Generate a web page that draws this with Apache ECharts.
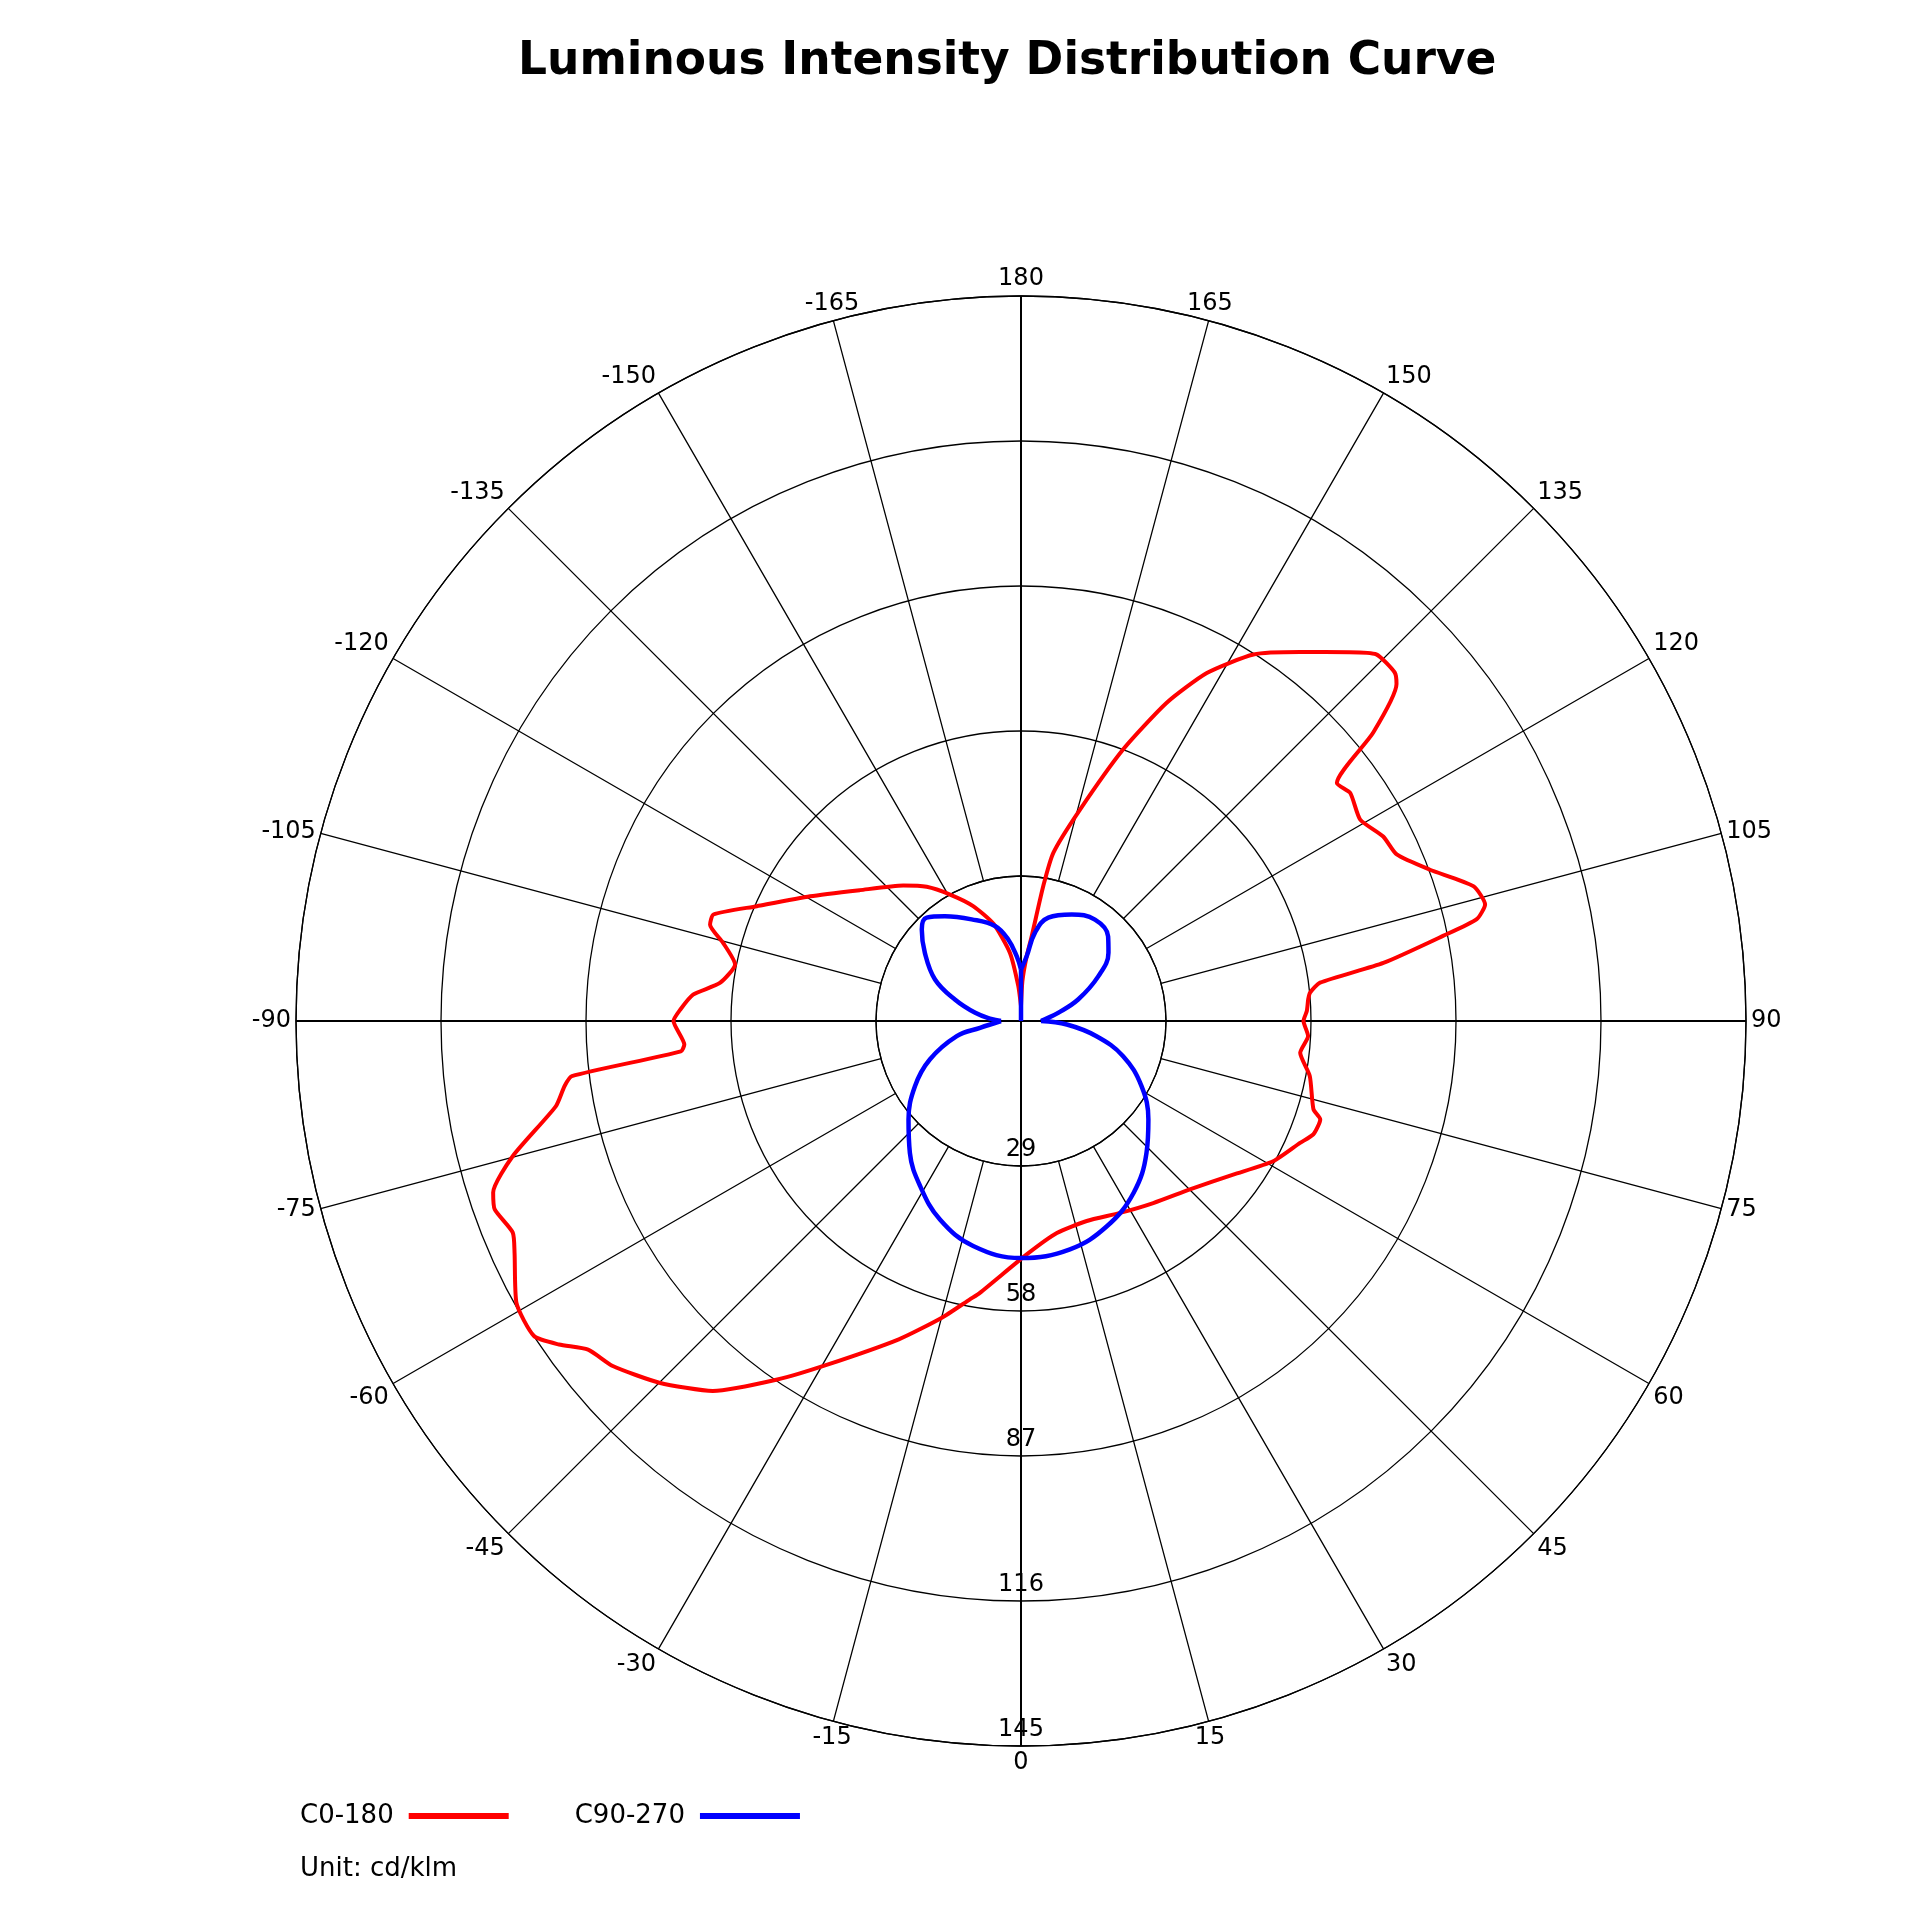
<!DOCTYPE html>
<html>
<head>
<meta charset="utf-8">
<script src="https://cdn.jsdelivr.net/npm/echarts@6/dist/echarts.min.js"></script>
<style>html,body{margin:0;padding:0;background:#fff}#c{width:1920px;height:1920px}</style>
</head>
<body>
<div id="c"></div>
<script>
// C0-180 (red): gamma angle (deg, 0 at bottom, + to the right) and intensity (cd/klm)
const redAngles = [-180,-175.6,-170.8,-164.2,-157.4,-150.7,-144.9,-139.0,-129.1,-120.6,-113.5,-109.1,-107.2,-104.7,-101.2,-97.2,-94.6,-91.9,-90.0,-86.0,-84.9,-83.0,-81.9,-79.6,-75.1,-72.0,-70.3,-67.4,-65.4,-60.8,-57.1,-55.0,-52.8,-49.8,-45.0,-39.8,-34.2,-29.4,-21.0,-15.0,-10.4,-8.6,1.4,9.6,18.2,27.3,36.0,45.1,54.1,60.9,66.4,68.8,71.8,73.2,79.2,83.5,87.0,90.0,92.0,94.3,95.6,97.3,99.1,101.4,102.6,104.1,106.6,110.3,113.9,117.0,120.7,124.7,127.0,129.3,131.9,133.0,135.9,138.3,142.9,147.6,151.9,155.4,159.4,164.4,169.1,170.6,172.8,175.0,178.0,180];
const redValues = [3,7.0,13.8,20.2,24.9,29.0,32.8,35.9,41.5,49.0,57.6,65.1,65.1,61.6,58.3,60.7,65.8,68.2,69.5,67.5,68.3,90.5,92.2,94.6,105.2,111.0,111.8,110.1,111.4,115.6,116.0,112.8,108.7,106.9,102.3,96.3,86.7,78.9,68.2,61.5,56.6,55.0,46.7,43.0,42.1,43.2,45.0,47.7,52.4,57.7,60.9,62.7,63.0,61.1,58.8,56.2,57.5,56.5,57.2,57.6,58.1,60.3,73.4,86.1,93.4,95.7,94.4,87.2,82.2,81.3,78.9,80.1,79.1,91.0,100.9,102.2,102.1,98.8,92.5,86.8,78.9,70.0,58.0,43.9,34.3,27.5,17.1,13.0,8.0,3];

// C90-270 (blue)
const blueAngles = [-180,-180,-176.2,-171.1,-164.7,-154.1,-144.0,-137.6,-132.7,-125.4,-115.8,-108.0,-100.1,-94,-90,-80.6,-76.7,-67.1,-58.4,-48.8,-40.1,-31.4,-22.2,-12.0,0,12.1,22.7,33.2,43.6,52.3,61.6,71.0,78.6,85.6,90,94.3,102.4,110.6,120.1,128.0,134.2,143.9,154.5,165.2,171.0,175.0,180];
const blueValues = [0,10.3,13.0,16.5,19.7,22.6,25.9,28.0,27.0,23.6,19.1,13.9,9.3,6,4,8.3,13.2,19.8,24.9,29.9,34.5,38.7,42.9,46.0,47.4,46.7,44.5,41.1,36.4,32.2,27.4,21.6,15.4,9.2,4,4.8,7.6,12.2,17.9,22.2,24.3,25.1,23.6,21.4,17.9,13.0,10.3];

const seriesNames = ['C0-180', 'C90-270'];
const radiusMax = 145;
const radiusStep = 29;
const angleStep = 15;

const FONT = 'DejaVu Sans';
const toAxis = a => (a + 360) % 360;
const toLabel = v => (v > 180 ? v - 360 : v);
const pts = (angles, values, i0, i1) => values.slice(i0, i1 + 1).map((v, k) => [v, toAxis(angles[i0 + k])]);

// blue curve pieces split at its cusps (±90) so each lobe is smoothed on its own
const bM90 = blueAngles.indexOf(-90), bP90 = blueAngles.indexOf(90), bEnd = blueAngles.length - 1;
const blueParts = [[0, 1, 0], [1, bM90, 0.4], [bM90, bP90, 0.4], [bP90, bEnd, 0.4]];

const chart = echarts.init(document.getElementById('c'), null, {renderer: 'canvas'});
const C = [1021, 1021];
const R = 725;

const blueSeries = blueParts.map(([a, b, s]) => ({
  name: seriesNames[1], type: 'line', coordinateSystem: 'polar', polarIndex: 1,
  data: pts(blueAngles, blueValues, a, b),
  symbol: 'none', smooth: s, lineStyle: {color: '#0000ff', width: 4.5}, itemStyle: {color: '#0000ff'}, z: 4
}));

chart.setOption({
  animation: false,
  backgroundColor: '#ffffff',
  title: [
    {text: 'Luminous Intensity Distribution Curve', left: 518, top: 39, padding: 0,
     textStyle: {fontFamily: FONT, fontSize: 45.5, fontWeight: 'bold', color: '#000'}},
    {text: 'Unit: cd/klm', left: 300, top: 1856, padding: 0,
     textStyle: {fontFamily: FONT, fontSize: 26, fontWeight: 'normal', color: '#000'}}
  ],
  legend: {
    data: seriesNames, left: 300, top: 1803, padding: 0, align: 'right',
    icon: 'rect', itemWidth: 100, itemHeight: 6, itemGap: 66,
    textStyle: {fontFamily: FONT, fontSize: 26, color: '#000', padding: [0, 10, 0, 0]}
  },
  polar: [
    {center: C, radius: [R / 5, R]},
    {center: C, radius: [0, R]}
  ],
  angleAxis: [
    {polarIndex: 0, type: 'value', min: 0, max: 360, interval: angleStep, startAngle: 270, clockwise: false,
     axisLine: {show: true, lineStyle: {color: '#000', width: 1.3}},
     axisTick: {show: false},
     axisLabel: {show: true, margin: 5, fontFamily: FONT, fontSize: 24, color: '#000', formatter: v => String(toLabel(v))},
     splitLine: {show: true, lineStyle: {color: '#000', width: 1.3}}},
    {polarIndex: 1, type: 'value', min: 0, max: 360, interval: 90, startAngle: 270, clockwise: false,
     axisLine: {show: false}, axisTick: {show: false}, axisLabel: {show: false},
     splitLine: {show: true, lineStyle: {color: '#000', width: 2}}}
  ],
  radiusAxis: [
    {polarIndex: 0, type: 'value', min: 0, max: 1,
     axisLine: {show: false}, axisTick: {show: false}, axisLabel: {show: false}, splitLine: {show: false}},
    {polarIndex: 1, type: 'value', min: 0, max: radiusMax, interval: radiusStep,
     axisLine: {show: false}, axisTick: {show: false},
     axisLabel: {show: true, showMinLabel: false, margin: 0, align: 'center', verticalAlign: 'bottom',
                 padding: [0, 0, 4, 0], fontFamily: FONT, fontSize: 24, color: '#000', rotate: 0},
     splitLine: {show: true, lineStyle: {color: '#000', width: 1.3}}}
  ],
  series: [
    {name: seriesNames[0], type: 'line', coordinateSystem: 'polar', polarIndex: 1,
     data: pts(redAngles, redValues, 0, redAngles.length - 1),
     symbol: 'none', smooth: 0.2, lineStyle: {color: '#ff0000', width: 4}, itemStyle: {color: '#ff0000'}, z: 3}
  ].concat(blueSeries)
});
</script>
</body>
</html>
